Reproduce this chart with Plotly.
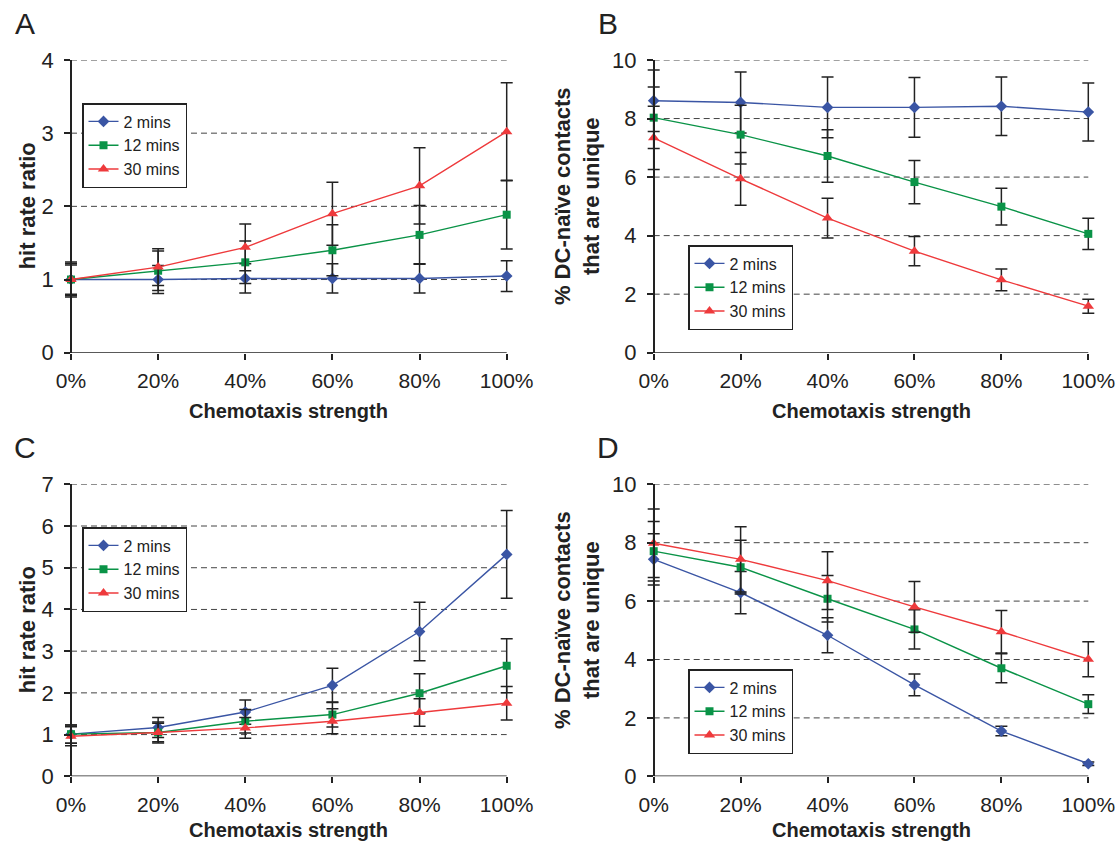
import plotly.graph_objects as go

W, H = 1117, 843

# ---------------- data ----------------
strength = [0, 20, 40, 60, 80, 100]
strength_labels = ["0%", "20%", "40%", "60%", "80%", "100%"]
series_names = ["2 mins", "12 mins", "30 mins"]

A_2 = [1.00, 1.00, 1.015, 1.015, 1.015, 1.048]
A_2_err = [0.20, 0.19, 0.20, 0.20, 0.20, 0.21]
A_12 = [1.00, 1.12, 1.235, 1.40, 1.61, 1.886]
A_12_err = [0.22, 0.27, 0.29, 0.35, 0.40, 0.47]
A_30 = [1.00, 1.17, 1.44, 1.90, 2.28, 3.02]
A_30_err = [0.24, 0.25, 0.32, 0.43, 0.52, 0.67]

B_2 = [8.61, 8.55, 8.38, 8.38, 8.42, 8.22]
B_2_err = [1.05, 1.04, 1.04, 1.02, 1.00, 0.99]
B_12 = [8.03, 7.45, 6.72, 5.83, 4.99, 4.06]
B_12_err = [1.05, 1.00, 0.90, 0.74, 0.63, 0.53]
B_30 = [7.34, 5.94, 4.60, 3.47, 2.49, 1.59]
B_30_err = [1.08, 0.90, 0.68, 0.50, 0.37, 0.24]

C_2 = [1.01, 1.17, 1.54, 2.18, 3.47, 5.32]
C_2_err = [0.22, 0.24, 0.29, 0.41, 0.70, 1.05]
C_12 = [1.01, 1.05, 1.32, 1.48, 1.99, 2.65]
C_12_err = [0.22, 0.25, 0.28, 0.30, 0.47, 0.65]
C_30 = [0.96, 1.05, 1.16, 1.32, 1.53, 1.75]
C_30_err = [0.23, 0.22, 0.25, 0.30, 0.33, 0.40]

D_2 = [7.43, 6.29, 4.83, 3.13, 1.55, 0.43]
D_2_err = [0.88, 0.72, 0.60, 0.37, 0.16, 0.06]
D_12 = [7.71, 7.16, 6.08, 5.03, 3.70, 2.47]
D_12_err = [1.02, 0.92, 0.80, 0.67, 0.50, 0.32]
D_30 = [7.98, 7.43, 6.70, 5.80, 4.95, 4.01]
D_30_err = [1.17, 1.12, 0.99, 0.87, 0.73, 0.60]

panel_letters = ["A", "B", "C", "D"]
x_title = "Chemotaxis strength"
y_titles = ["hit rate ratio", "% DC-naïve contacts<br>that are unique",
            "hit rate ratio", "% DC-naïve contacts<br>that are unique"]
y_ticks = [[0, 1, 2, 3, 4], [0, 2, 4, 6, 8, 10],
           [0, 1, 2, 3, 4, 5, 6, 7], [0, 2, 4, 6, 8, 10]]

# ---------------- styling ----------------
FONT = "Liberation Sans, Arial, sans-serif"
colors = ["#3A55A4", "#0A9347", "#EE3A3C"]
symbols = ["diamond", "square", "triangle-up"]
msizes = [9, 8, 10]
AX = "#222"
XPAD = 2.0  # x-range padding (in axis units) so end caps are not clipped

# pixel geometry (left, right, top(ymax), bottom(0))
geo = [
    (71, 506.7, 60, 352.7),
    (653.7, 1088.3, 60, 352.7),
    (71, 506.7, 484.3, 776.3),
    (653.7, 1088.3, 484.3, 776.3),
]
xtitle_off = [58, 58, 54, 54]
legend_pos = [(82, 103), (688, 245), (82, 527), (688, 669)]

panels = [
    [(A_2, A_2_err), (A_12, A_12_err), (A_30, A_30_err)],
    [(B_2, B_2_err), (B_12, B_12_err), (B_30, B_30_err)],
    [(C_2, C_2_err), (C_12, C_12_err), (C_30, C_30_err)],
    [(D_2, D_2_err), (D_12, D_12_err), (D_30, D_30_err)],
]

fig = go.Figure()
layout = dict(
    width=W, height=H,
    margin=dict(l=0, r=0, t=0, b=0, pad=0, autoexpand=False),
    paper_bgcolor="white", plot_bgcolor="white",
    font=dict(family=FONT, color=AX),
    showlegend=True,
)
annotations = []
shapes = []

for p in range(4):
    xa = "x" if p == 0 else f"x{p+1}"
    ya = "y" if p == 0 else f"y{p+1}"
    xkey = "xaxis" if p == 0 else f"xaxis{p+1}"
    ykey = "yaxis" if p == 0 else f"yaxis{p+1}"
    lkey = "legend" if p == 0 else f"legend{p+1}"
    L, R, T, B = geo[p]
    k = (R - L) / 100.0
    Lp, Rp = L - XPAD * k, R + XPAD * k
    ymax = y_ticks[p][-1]

    # dashed gridlines across 0%..100%
    for v in y_ticks[p][1:]:
        shapes.append(dict(type="line", xref=xa, yref=ya, x0=0, x1=100, y0=v, y1=v,
                           line=dict(color="#444", width=1, dash="6px,4px"),
                           layer="below"))
    # x-axis baseline from 0% to 100%
    shapes.append(dict(type="line", xref=xa, yref=ya, x0=0, x1=100, y0=0, y1=0,
                       line=dict(color=AX, width=1.5), layer="below"))

    for s in range(3):
        vals, errs = panels[p][s]
        fig.add_trace(go.Scatter(
            x=strength, y=vals, name=series_names[s],
            xaxis=xa, yaxis=ya, legend=lkey,
            mode="lines+markers", cliponaxis=False,
            line=dict(color=colors[s], width=1.4),
            marker=dict(symbol=symbols[s], size=msizes[s], color=colors[s]),
            error_y=dict(type="data", array=errs, visible=True,
                         color=AX, thickness=1.5, width=6),
        ))
    layout[xkey] = dict(
        domain=[Lp / W, Rp / W], anchor=ya, range=[-XPAD, 100 + XPAD],
        tickmode="array", tickvals=strength, ticktext=strength_labels,
        showline=False,
        ticks="outside", ticklen=6, tickwidth=1.5, tickcolor=AX,
        showgrid=False, zeroline=False,
        tickfont=dict(size=21, family=FONT, color=AX),
        ticklabelstandoff=3,
    )
    layout[ykey] = dict(
        domain=[1 - B / H, 1 - T / H], anchor="free", position=L / W,
        range=[0, ymax],
        tickmode="array", tickvals=y_ticks[p],
        showline=True, linecolor=AX, linewidth=1.5,
        ticks="outside", ticklen=6, tickwidth=1.5, tickcolor=AX,
        showgrid=False, zeroline=False,
        tickfont=dict(size=22, family=FONT, color=AX),
        ticklabelstandoff=6,
    )
    lx, ly = legend_pos[p]
    layout[lkey] = dict(
        x=lx / W, y=1 - ly / H, xanchor="left", yanchor="top",
        bgcolor="white", bordercolor=AX, borderwidth=1.5,
        font=dict(size=16, family=FONT, color=AX),
        tracegroupgap=0, itemwidth=30,
    )
    # panel letter
    annotations.append(dict(
        text=panel_letters[p], xref="paper", yref="paper",
        x=(L - 46) / W, y=1 - (T - 37) / H, xanchor="center", yanchor="middle",
        showarrow=False, font=dict(size=30, family=FONT, color=AX)))
    # x title
    annotations.append(dict(
        text="<b>" + x_title + "</b>", xref="paper", yref="paper",
        x=(L + R) / 2 / W, y=1 - (B + xtitle_off[p]) / H,
        xanchor="center", yanchor="middle",
        showarrow=False, font=dict(size=20, family=FONT, color=AX)))
    # y title
    two = "<br>" in y_titles[p]
    ytx = (L - 44) if not two else (L - 76)
    annotations.append(dict(
        text="<b>" + y_titles[p] + "</b>", xref="paper", yref="paper",
        x=ytx / W, y=1 - ((T + B) / 2 - (10 if two else 0)) / H,
        xanchor="center", yanchor="middle", textangle=-90,
        showarrow=False, font=dict(size=22, family=FONT, color=AX)))

layout["annotations"] = annotations
layout["shapes"] = shapes
fig.update_layout(**layout)
fig.write_html(
    "out.html",
    config={"displayModeBar": False},
    post_script="document.body.style.margin='0';document.body.style.overflow='hidden';",
)
